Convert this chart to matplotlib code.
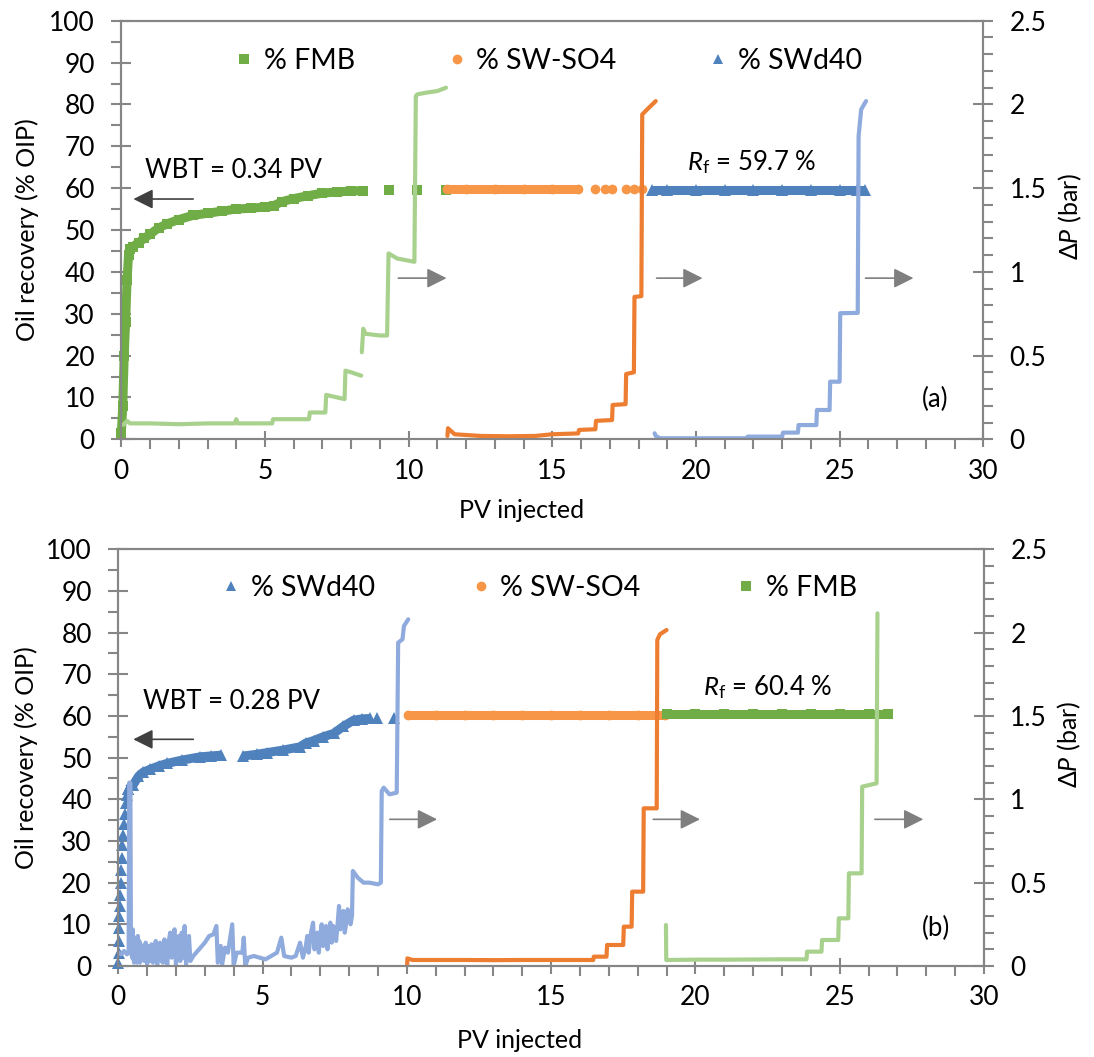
"""
Oil recovery and pressure drop vs PV injected - two panel recreation.
"""

import numpy as np
import matplotlib.pyplot as plt
from matplotlib.lines import Line2D
from matplotlib.ticker import MultipleLocator, FuncFormatter

plt.rcParams['font.family'] = ['Lato', 'DejaVu Sans']
plt.rcParams['mathtext.fontset'] = 'custom'
plt.rcParams['mathtext.rm'] = 'Lato'
plt.rcParams['mathtext.it'] = 'Lato:italic'
plt.rcParams['mathtext.fallback'] = 'stixsans'

nan = np.nan

# ==========================================
# Colours (Excel palette) and text sizes
# ==========================================
C_FMB = '#70AD47'
C_FMB_DP = '#A9D18E'
C_SO4 = '#F79646'
C_SO4_DP = '#ED7D31'
C_D40 = '#4F81BD'
C_D40_DP = '#8FAADC'
C_AXIS = '#868686'

FS_TICK = 19
FS_LABEL = 18
FS_NOTE = 18.5
FS_LEG = 20.5

# ==========================================
# Panel (a) data
# ==========================================
# oil recovery (% OIP)
a_fmb_x = [0.0, 0.05, 0.1, 0.15, 0.2, 0.25, 0.3, 0.4, 0.6, 0.8, 1.0, 1.3, 1.6, 2.0,
           2.5, 3.0, 3.5, 4.0, 4.5, 5.0, 5.3, 5.6, 6.0, 6.5, 7.0, 7.5, 8.0, 8.4]
a_fmb_y = [1.5, 8, 20, 28, 38, 44, 45.5, 46, 47, 48, 49, 50.5, 51.5, 52.5,
           53.5, 54, 54.5, 55, 55.2, 55.5, 55.8, 56.8, 57.5, 58.2, 58.8, 59.1, 59.3, 59.4]
a_fmb_tail_x = [9.3, 10.3, 11.3]
a_fmb_tail_y = [59.5, 59.5, 59.6]

a_so4_x = [11.35, 12.0, 13.0, 14.0, 15.0, 15.9]
a_so4_y = [59.7, 59.7, 59.7, 59.7, 59.7, 59.7]
a_so4_tail_x = [16.5, 16.85, 17.08, 17.55, 17.84, 18.12]
a_so4_tail_y = [59.7, 59.7, 59.7, 59.7, 59.7, 59.7]

a_d40_x = [18.47, 19.0, 20.0, 21.0, 22.0, 23.0, 24.0, 25.0, 25.6, 25.9]
a_d40_y = [59.6, 59.6, 59.6, 59.6, 59.6, 59.6, 59.6, 59.6, 59.6, 59.6]

# pressure drop (bar)
a_fmb_dp_x = [0.02, 0.1, 0.2, 0.3, 1.0, 2.0, 3.0, 3.95, 4.0, 4.05, 5.0, 5.25, 5.28, 6.0,
              6.53, 6.56, 7.1, 7.13, 7.77, 7.8, 8.0, 8.35, nan, 8.37, 8.42, 8.5, 9.0,
              9.25, 9.3, 9.6, 10.2, 10.25, 10.3, 10.6, 11.0, 11.3]
a_fmb_dp_y = [0.085, 0.09, 0.11, 0.095, 0.095, 0.09, 0.095, 0.095, 0.12, 0.095, 0.095,
              0.095, 0.12, 0.12, 0.12, 0.16, 0.16, 0.265, 0.24, 0.41, 0.40, 0.38, nan,
              0.52, 0.66, 0.63, 0.62, 0.62, 1.11, 1.08, 1.06, 2.05, 2.06, 2.07, 2.08, 2.1]

a_so4_dp_x = [11.35, 11.37, 11.6, 12.5, 13.5, 14.4, 15.0, 15.9, 15.93, 16.5, 16.52,
              17.08, 17.1, 17.55, 17.57, 17.84, 17.86, 18.1, 18.13, 18.3, 18.6]
a_so4_dp_y = [0.02, 0.066, 0.03, 0.02, 0.018, 0.02, 0.03, 0.035, 0.056, 0.06, 0.11,
              0.115, 0.205, 0.21, 0.39, 0.40, 0.85, 0.855, 1.94, 1.97, 2.02]

a_d40_dp_x = [18.56, 18.6, 18.75, 20.0, 21.76, 21.8, 23.0, 23.03, 23.55, 23.57, 24.19,
              24.21, 24.65, 24.67, 25.0, 25.02, 25.63, 25.66, 25.75, 25.92]
a_d40_dp_y = [0.036, 0.02, 0.006, 0.006, 0.006, 0.016, 0.016, 0.04, 0.04, 0.085, 0.085,
              0.175, 0.175, 0.344, 0.344, 0.753, 0.755, 1.81, 1.97, 2.02]

# ==========================================
# Panel (b) data
# ==========================================
b_d40_rise_x = [0.0, 0.01, 0.02, 0.03, 0.04, 0.05, 0.06, 0.08, 0.1, 0.12, 0.14, 0.17,
                0.2, 0.24, 0.28, 0.32, 0.35]
b_d40_rise_y = [0.6, 3, 6, 9, 12, 14.5, 17, 20, 23, 26, 29, 31.5, 34, 36.5, 39, 41, 42.5]
b_d40_x = [0.35, 0.52, 0.7, 0.86, 1.1, 1.4, 1.68, 2.2, 2.84, 3.2, 3.55, nan,
           4.34, 4.8, 5.15, 5.7, 6.3, 6.5, 6.77, 7.1, 7.46, 7.8, 8.16, 8.45, 8.74]
b_d40_y = [42.5, 43.5, 45.5, 46.5, 47.2, 48.0, 48.6, 49.4, 50.2, 50.4, 50.6, nan,
           50.4, 50.8, 51.2, 51.8, 52.6, 53.5, 54.1, 55.0, 55.8, 57.5, 59.0, 59.3, 59.4]
b_d40_tail_x = [8.97, 9.55]
b_d40_tail_y = [59.5, 59.6]

b_so4_x = [10.05, 11.0, 12.0, 13.0, 14.0, 15.0, 16.0, 17.0, 18.0, 18.94]
b_so4_y = [60.2, 60.2, 60.2, 60.2, 60.2, 60.2, 60.2, 60.2, 60.2, 60.2]

b_fmb_x = [19.0, 20.0, 21.0, 22.0, 23.0, 24.0, 25.0, 26.0, 26.68]
b_fmb_y = [60.4, 60.4, 60.4, 60.4, 60.4, 60.4, 60.4, 60.4, 60.4]

# pressure drop (bar)
b_d40_dp_x = [0.0, 0.1, 0.2, 0.3, 0.36, 0.38, 0.42, 0.44, 0.48, 0.5, 0.53, 0.55, 0.58,
              0.6, 0.63, 0.65, 0.68, 0.7, 0.73, 0.75, 0.78, 0.8, 0.85, 0.9, 0.95, 1.0,
              1.05, 1.1, 1.15, 1.2, 1.25, 1.3, 1.35, 1.4, 1.45, 1.5, 1.55, 1.6, 1.65,
              1.7, 1.75, 1.8, 1.85, 1.9, 1.95, 2.0, 2.05, 2.1, 2.15, 2.2, 2.25, 2.3,
              2.35, 2.4, 2.45, 2.5, 2.6, 2.8, 3.0, 3.15, 3.3, 3.4, 3.45, 3.55, 3.6, 3.7,
              3.8, 3.95, 4.0, 4.1, 4.3, 4.35, 4.4, 4.5, 4.7, 4.9, 5.1, 5.3, 5.5, 5.65,
              5.75, 6.0, 6.15, 6.3, 6.4, 6.5, 6.55, 6.6, 6.68, 6.75, 6.8, 6.85, 6.9,
              6.95, 7.0, 7.05, 7.1, 7.15, 7.2, 7.25, 7.3, 7.35, 7.4, 7.45, 7.5, 7.55,
              7.6, 7.65, 7.7, 7.75, 7.8, 7.85, 7.9, 7.95, 8.0, 8.05, 8.1, 8.13, 8.3,
              8.5, 8.7, 9.0, 9.1, 9.13, 9.2, 9.4, 9.65, 9.7, 9.85, 9.9, 10.05]
b_d40_dp_y = [0.08, 0.07, 0.09, 0.07, 0.08, 1.1, 1.1, 0.1, 0.05, 0.22, 0.04, 0.02, 0.17,
              0.03, 0.14, 0.02, 0.18, 0.06, 0.15, 0.02, 0.13, 0.04, 0.12, 0.03, 0.14,
              0.01, 0.12, 0.03, 0.13, 0.02, 0.11, 0.15, 0.0, 0.12, 0.14, 0.03, 0.02,
              0.16, 0.04, 0.01, 0.15, 0.2, 0.05, 0.17, 0.22, 0.0, 0.14, 0.18, 0.03, 0.2,
              0.05, 0.24, 0.01, 0.15, 0.18, 0.03, 0.06, 0.1, 0.14, 0.18, 0.19, 0.24,
              0.02, 0.12, 0.01, 0.11, 0.08, 0.25, 0.0, 0.08, 0.08, 0.17, 0.0, 0.05, 0.06,
              0.05, 0.04, 0.06, 0.08, 0.17, 0.06, 0.05, 0.06, 0.14, 0.05, 0.12, 0.18,
              0.08, 0.2, 0.26, 0.1, 0.18, 0.2, 0.08, 0.19, 0.25, 0.12, 0.22, 0.24, 0.1,
              0.2, 0.26, 0.14, 0.24, 0.22, 0.15, 0.25, 0.36, 0.22, 0.3, 0.33, 0.2, 0.26,
              0.34, 0.3, 0.25, 0.3, 0.57, 0.53, 0.5, 0.5, 0.49, 0.5, 1.05, 1.07, 1.03,
              1.04, 1.94, 1.96, 2.04, 2.08]

b_so4_dp_x = [10.01, 10.02, 10.2, 11.0, 12.0, 13.0, 14.0, 15.0, 16.46, 16.48, 16.92,
              16.94, 17.5, 17.52, 17.79, 17.81, 18.19, 18.21, 18.66, 18.68, 18.77, 19.0]
b_so4_dp_y = [0.0, 0.046, 0.036, 0.036, 0.036, 0.035, 0.036, 0.036, 0.036, 0.056, 0.056,
              0.126, 0.126, 0.236, 0.236, 0.446, 0.446, 0.946, 0.946, 1.956, 1.99, 2.016]

b_fmb_dp_x = [18.98, 18.99, 19.05, 20.0, 21.0, 22.0, 23.0, 23.85, 23.87, 24.37, 24.39,
              24.95, 24.97, 25.3, 25.32, 25.76, 25.78, 26.28, 26.31]
b_fmb_dp_y = [0.246, 0.036, 0.036, 0.038, 0.038, 0.039, 0.04, 0.04, 0.086, 0.086, 0.156,
              0.156, 0.286, 0.286, 0.556, 0.556, 1.076, 1.096, 2.116]

# ==========================================
# Helpers
# ==========================================
BAND_LW = 6.5


def style_axes(ax, ax2):
    ax.set_xlim(0, 30)
    ax.set_ylim(0, 100)
    ax2.set_ylim(0, 2.5)
    ax.xaxis.set_major_locator(MultipleLocator(5))
    ax.xaxis.set_minor_locator(MultipleLocator(1))
    ax.yaxis.set_major_locator(MultipleLocator(10))
    ax.yaxis.set_minor_locator(MultipleLocator(5))
    ax2.yaxis.set_major_locator(MultipleLocator(0.5))
    ax2.yaxis.set_minor_locator(MultipleLocator(0.1))
    ax2.yaxis.set_major_formatter(FuncFormatter(lambda v, p: f'{v:g}'))
    for a in (ax, ax2):
        for sp in a.spines.values():
            sp.set_color(C_AXIS)
            sp.set_linewidth(1.5)
        a.tick_params(which='major', direction='inout', length=14, width=1.5,
                      color=C_AXIS, labelsize=FS_TICK, pad=12)
        a.tick_params(which='minor', direction='out', length=7, width=1.5, color=C_AXIS)
    ax.tick_params(axis='x', which='major', length=12, pad=8)
    ax.set_ylabel('Oil recovery (% OIP)', fontsize=FS_LABEL)
    ax.set_xlabel('PV injected', fontsize=FS_LABEL)
    ax2.set_ylabel(r'$\Delta\mathit{P}$ (bar)', fontsize=FS_LABEL)
    for lab in (ax.xaxis.label, ax.yaxis.label, ax2.yaxis.label):
        lab.set_ha('center')
        lab.set_va('center')


def band(ax, x, y, color, marker, ms, cap='butt'):
    ax.plot(x, y, color=color, lw=BAND_LW, marker=marker, ms=ms, mew=0,
            solid_capstyle=cap, clip_on=False)


def dots(ax, x, y, color, marker, ms):
    ax.plot(x, y, ls='none', color=color, marker=marker, ms=ms, mew=0, clip_on=False)


def dp_line(ax2, x, y, color):
    ax2.plot(x, y, color=color, lw=3.0, solid_joinstyle='round', solid_capstyle='round')


def arrow(ax, tail, tip, color):
    ax.annotate('', xy=tip, xytext=tail,
                arrowprops=dict(arrowstyle='-|>', color=color, lw=1.2,
                                mutation_scale=30, shrinkA=0, shrinkB=0))


def handle(marker, color, label):
    return Line2D([], [], ls='none', marker=marker, color=color, ms=7, mew=0, label=label)


fig = plt.figure(figsize=(10.94, 10.57), dpi=100)

# ==========================================
# Panel (a)
# ==========================================
ax = fig.add_axes([0.1109, 0.5844, 0.7879, 0.3960])
ax2 = ax.twinx()
style_axes(ax, ax2)
ax.xaxis.set_label_coords(0.464, -0.171)
ax.yaxis.set_label_coords(-0.109, 0.5)
ax2.yaxis.set_label_coords(1.101, 0.532)

band(ax, a_fmb_x, a_fmb_y, C_FMB, 's', 7)
dots(ax, a_fmb_tail_x, a_fmb_tail_y, C_FMB, 's', 7)
band(ax, a_so4_x, a_so4_y, C_SO4, 'o', 7, cap='round')
dots(ax, a_so4_tail_x, a_so4_tail_y, C_SO4, 'o', 7)
band(ax, a_d40_x, a_d40_y, C_D40, '^', 8)

dp_line(ax2, a_fmb_dp_x, a_fmb_dp_y, C_FMB_DP)
dp_line(ax2, a_so4_dp_x, a_so4_dp_y, C_SO4_DP)
dp_line(ax2, a_d40_dp_x, a_d40_dp_y, C_D40_DP)

arrow(ax, (2.5, 57.4), (0.42, 57.4), '#404040')
arrow(ax, (9.64, 38.5), (11.32, 38.5), '#7F7F7F')
arrow(ax, (18.63, 38.5), (20.23, 38.5), '#7F7F7F')
arrow(ax, (25.9, 38.5), (27.57, 38.5), '#7F7F7F')

ax.text(0.82, 64.3, 'WBT = 0.34 PV', ha='left', va='center', fontsize=FS_NOTE)
ax.text(19.68, 66.3, r'$\mathit{R}_{\mathrm{f}}$ = 59.7 %', ha='left', va='center',
        fontsize=FS_NOTE)
ax.text(27.85, 9.4, '(a)', ha='left', va='center', fontsize=FS_NOTE)

ax.legend(handles=[handle('s', C_FMB, '% FMB'), handle('o', C_SO4, '% SW-SO4'),
                   handle('^', C_D40, '% SWd40')],
          loc='center', bbox_to_anchor=(0.496, 0.904), ncol=3, frameon=False,
          fontsize=FS_LEG, handlelength=0.6, handletextpad=0.4, columnspacing=3.25)

# ==========================================
# Panel (b)
# ==========================================
bx = fig.add_axes([0.1081, 0.0861, 0.7913, 0.3942])
bx2 = bx.twinx()
style_axes(bx, bx2)
bx.xaxis.set_label_coords(0.464, -0.178)
bx.yaxis.set_label_coords(-0.106, 0.5)
bx2.yaxis.set_label_coords(1.099, 0.532)

dots(bx, b_d40_rise_x, b_d40_rise_y, C_D40, '^', 8)
band(bx, b_d40_x, b_d40_y, C_D40, '^', 8)
dots(bx, b_d40_tail_x, b_d40_tail_y, C_D40, '^', 8)
band(bx, b_so4_x, b_so4_y, C_SO4, 'o', 7, cap='round')
band(bx, b_fmb_x, b_fmb_y, C_FMB, 's', 7)

dp_line(bx2, b_d40_dp_x, b_d40_dp_y, C_D40_DP)
dp_line(bx2, b_so4_dp_x, b_so4_dp_y, C_SO4_DP)
dp_line(bx2, b_fmb_dp_x, b_fmb_dp_y, C_FMB_DP)

arrow(bx, (2.6, 54.4), (0.52, 54.4), '#404040')
arrow(bx, (9.41, 35.2), (11.05, 35.2), '#7F7F7F')
arrow(bx, (18.54, 35.2), (20.16, 35.2), '#7F7F7F')
arrow(bx, (26.22, 35.2), (27.9, 35.2), '#7F7F7F')

bx.text(0.87, 63.4, 'WBT = 0.28 PV', ha='left', va='center', fontsize=FS_NOTE)
bx.text(20.27, 67.0, r'$\mathit{R}_{\mathrm{f}}$ = 60.4 %', ha='left', va='center',
        fontsize=FS_NOTE)
bx.text(27.85, 9.1, '(b)', ha='left', va='center', fontsize=FS_NOTE)

bx.legend(handles=[handle('^', C_D40, '% SWd40'), handle('o', C_SO4, '% SW-SO4'),
                   handle('s', C_FMB, '% FMB')],
          loc='center', bbox_to_anchor=(0.487, 0.907), ncol=3, frameon=False,
          fontsize=FS_LEG, handlelength=0.6, handletextpad=0.4, columnspacing=3.4)

fig.savefig('out.png', dpi=100)
